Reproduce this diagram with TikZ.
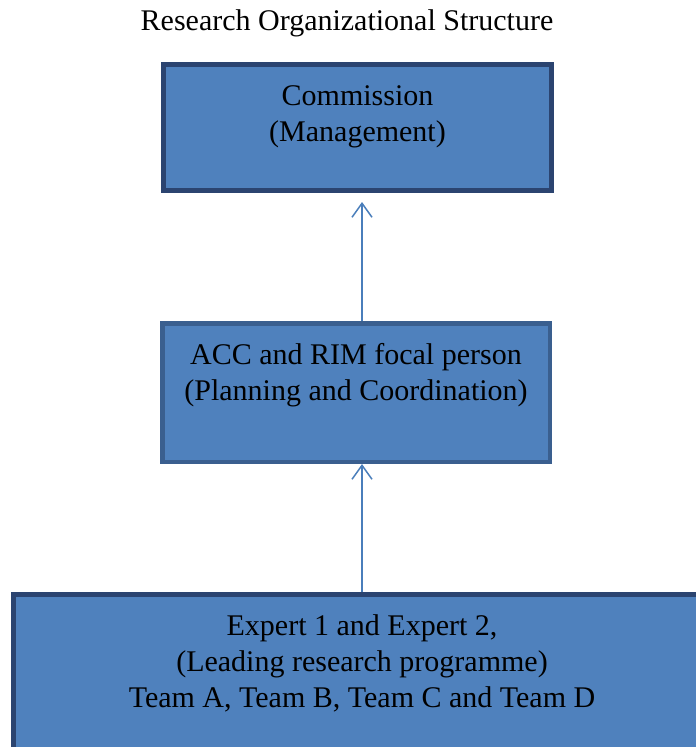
\documentclass[tikz,border=0pt]{standalone}
\usepackage{fontspec}
\setmainfont{Liberation Serif}
\usetikzlibrary{arrows.meta}

\definecolor{boxfill}{HTML}{4F81BD}
\definecolor{boxedge}{HTML}{2B4470}
\definecolor{midedge}{HTML}{3A5F8F}
\definecolor{linkblue}{HTML}{4A7EBB}

\tikzset{
  orgbox/.style={draw=boxedge, fill=boxfill, line width=5pt, inner sep=0pt},
  link/.style={draw=linkblue, line width=1.5pt, -{Straight Barb[length=14pt,width=20pt]}}
}
% text sits at the top of each box
\newcommand{\boxtext}[3]{\parbox[c][#2][t]{#1}{\centering\rule{0pt}{41pt}#3}}

\begin{document}
\begin{tikzpicture}[x=1pt, y=-1pt, font=\fontsize{30}{36}\selectfont]
\useasboundingbox (0,0) rectangle (696,747);
% Title
\node[anchor=base, inner sep=0pt] (title) at (347,30) {Research Organizational Structure};
% Boxes
\node[orgbox] (commission) at (357.5,127.5) {\boxtext{388pt}{126pt}{Commission\\(Management)}};
\node[orgbox, draw=midedge, line width=4.5pt] (focal) at (356,392.5) {\boxtext{387.5pt}{138.5pt}{ACC and RIM focal person\\(Planning and Coordination)}};
\node[orgbox] (experts) at (362,676) {\boxtext{697pt}{163pt}{Expert 1 and Expert 2,\\(Leading research programme)\\Team A, Team B, Team C and Team D}};
% Arrows up the structure
\draw[link] (experts.north) -- (experts.north |- focal.south);
\draw[link, shorten >=9pt] (experts.north |- focal.north) -- (experts.north |- commission.south);
\end{tikzpicture}
\end{document}
